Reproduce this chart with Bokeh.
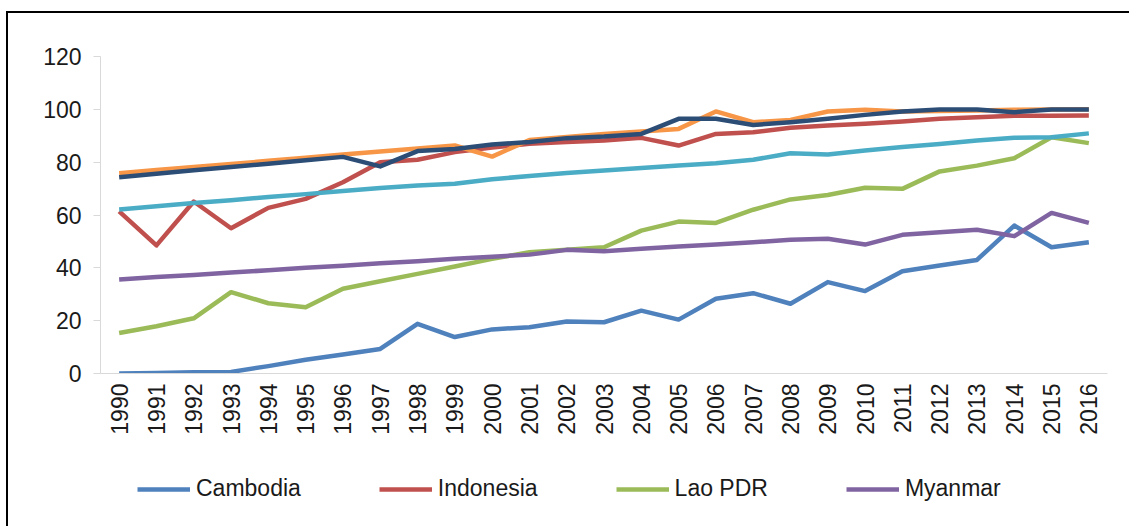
import math
from bokeh.plotting import figure
from bokeh.layouts import column
from bokeh.models import Legend, LegendItem, FixedTicker, Range1d, FactorRange
from bokeh.embed import file_html
from bokeh.resources import INLINE

years = [str(y) for y in range(1990, 2017)]
y_ticks = [0, 20, 40, 60, 80, 100, 120]

cambodia = [0.0, 0.2, 0.5, 0.6, 2.8, 5.2, 7.2, 9.3, 18.8, 13.8, 16.7, 17.5, 19.7, 19.4,
            23.8, 20.4, 28.3, 30.4, 26.4, 34.6, 31.2, 38.7, 40.9, 43.0, 56.0, 47.8, 49.7]
indonesia = [61.4, 48.5, 65.1, 55.0, 62.7, 66.1, 72.4, 80.0, 80.9, 83.8, 85.5, 87.0, 87.6, 88.2,
             89.2, 86.3, 90.7, 91.3, 93.0, 93.9, 94.5, 95.4, 96.4, 97.0, 97.6, 97.6, 97.7]
lao = [15.3, 17.9, 20.9, 30.8, 26.6, 25.1, 32.1, 34.9, 37.7, 40.5, 43.4, 45.9, 46.8, 47.8,
       54.1, 57.5, 57.0, 62.0, 65.9, 67.6, 70.3, 69.9, 76.5, 78.7, 81.5, 89.4, 87.2]
myanmar = [35.6, 36.5, 37.3, 38.2, 39.1, 40.0, 40.8, 41.7, 42.5, 43.4, 44.2, 45.0, 46.8, 46.3,
           47.2, 48.1, 48.8, 49.7, 50.6, 51.0, 48.8, 52.5, 53.5, 54.4, 52.0, 60.8, 57.0]
philippines = [62.1, 63.3, 64.5, 65.6, 66.8, 67.9, 69.1, 70.2, 71.2, 71.8, 73.5, 74.8, 75.9, 76.8,
               77.8, 78.7, 79.6, 80.9, 83.4, 82.9, 84.4, 85.7, 86.9, 88.2, 89.2, 89.4, 90.9]
thailand = [75.8, 77.0, 78.2, 79.3, 80.5, 81.7, 82.9, 84.0, 85.2, 86.3, 82.1, 88.4, 89.5, 90.7,
            91.6, 92.6, 99.2, 95.1, 96.0, 99.2, 99.8, 99.2, 99.4, 99.6, 99.8, 99.9, 100.0]
vietnam = [74.3, 75.6, 76.9, 78.2, 79.4, 80.7, 82.0, 78.4, 84.2, 85.0, 86.7, 87.6, 89.1, 89.7,
           90.7, 96.4, 96.4, 94.1, 95.1, 96.4, 97.9, 99.2, 99.9, 99.9, 98.9, 99.9, 99.9]

series = [
    ("Cambodia", cambodia, "#4F81BD", True),
    ("Indonesia", indonesia, "#C0504D", True),
    ("Lao PDR", lao, "#9BBB59", True),
    ("Myanmar", myanmar, "#8064A2", True),
    ("Philippines", philippines, "#4BACC6", False),
    ("Thailand", thailand, "#F79646", False),
    ("Viet Nam", vietnam, "#2C4D75", False),
]

FONT = "Liberation Sans"
TXT = "#1a1a1a"
LW = 4.5

# main chart
p = figure(width=1121, height=427, x_range=FactorRange(*years), y_range=Range1d(0, 120),
           output_backend="svg", toolbar_location=None,
           min_border_left=92, min_border_top=43, min_border_right=22, min_border_bottom=67)
p.outline_line_color = None
p.xgrid.visible = False
p.ygrid.visible = False

for name, vals, col, show in series:
    p.line(years, vals, line_color=col, line_width=LW, line_join="round")

p.yaxis.ticker = FixedTicker(ticks=y_ticks)
for ax in (p.xaxis[0], p.yaxis[0]):
    ax.axis_line_color = "#d9d9d9"
    ax.major_tick_line_color = "#d9d9d9"
    ax.minor_tick_line_color = None
    ax.major_tick_in = 0
    ax.major_label_text_font = FONT
    ax.major_label_text_font_size = "23px"
    ax.major_label_text_color = TXT
p.yaxis.major_tick_out = 7
p.yaxis.major_label_standoff = 12
p.xaxis.major_tick_out = 0
p.xaxis.major_label_orientation = math.pi / 2
p.xaxis.major_label_standoff = 10

# legend strip (only the four series named in the reference legend).
# Its range is chosen so that the series themselves fall outside and only
# the legend swatches are visible.
pl = figure(width=1121, height=86, x_range=Range1d(0, 1), y_range=Range1d(0, 1),
            x_axis_type=None, y_axis_type=None, output_backend="svg", toolbar_location=None,
            min_border=0)
pl.outline_line_color = None
pl.xgrid.visible = False
pl.ygrid.visible = False
year_nums = [int(y) for y in years]
items = []
for name, vals, col, show in series:
    if show:
        r = pl.line(year_nums, vals, line_color=col, line_width=LW)
        items.append(LegendItem(label=name, renderers=[r]))

legend = Legend(items=items, orientation="horizontal", location=(37, 24),
                label_text_font=FONT, label_text_font_size="23px", label_text_color=TXT,
                glyph_width=53, glyph_height=20, label_standoff=6, spacing=78,
                padding=0, margin=0, border_line_color=None, background_fill_alpha=0)
pl.add_layout(legend)

layout = column(p, pl, spacing=0,
                styles={"margin-left": "6px", "margin-top": "11px",
                        "border-left": "2px solid #000", "border-top": "2px solid #000"})

open("out.html", "w").write(file_html(layout, INLINE))
